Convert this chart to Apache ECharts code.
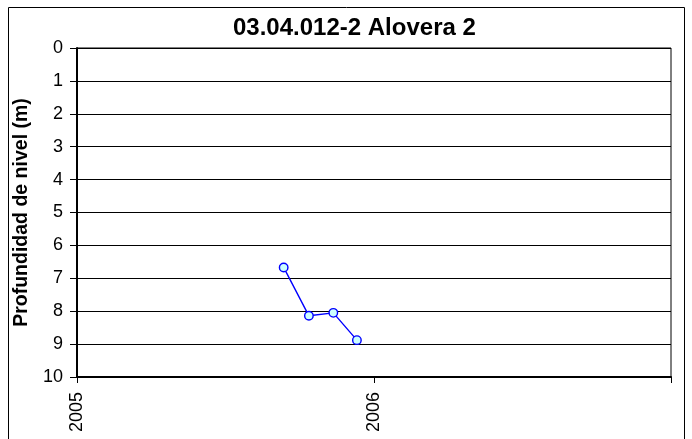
<!DOCTYPE html>
<html><head><meta charset="utf-8">
<script src="https://cdn.jsdelivr.net/npm/echarts@6/dist/echarts.min.js"></script>
<style>html,body{margin:0;padding:0;background:#fff}#c{width:692px;height:439px}</style>
</head><body><div id="c"></div>
<script>
var dates = ['2005-09-12', '2005-10-13', '2005-11-12', '2005-12-11'];
var depths = [6.67, 8.14, 8.05, 8.88];
var xTicks = [2005, 2006, 2007];
var yTicks = [0,1,2,3,4,5,6,7,8,9,10];
var title = '03.04.012-2 Alovera 2';
var yName = 'Profundidad de nivel (m)';

function decYear(s){
  var p = s.split('-').map(Number);
  var t = Date.UTC(p[0], p[1]-1, p[2]);
  var a = Date.UTC(p[0],0,1), b = Date.UTC(p[0]+1,0,1);
  return p[0] + (t-a)/(b-a);
}
var data = dates.map(function(d,i){ return [decYear(d), depths[i]]; });
var FONT = 'Arial, "Liberation Sans", sans-serif';

var chart = echarts.init(document.getElementById('c'));
chart.setOption({
  animation:false,
  title:{text:title, left:233, top:16, padding:0, textStyle:{fontFamily:FONT, fontWeight:'bold', fontSize:24, color:'#000'}},
  graphic:[{type:'rect', shape:{x:8.5,y:7.5,width:676,height:440}, style:{fill:'none', stroke:'#000', lineWidth:1}, silent:true}],
  grid:{left:77, right:21, top:48, bottom:62, show:true, borderColor:'#000', borderWidth:1, backgroundColor:'transparent'},
  xAxis:{type:'value', min:xTicks[0], max:xTicks[xTicks.length-1], interval:1,
    axisLine:{onZero:false, lineStyle:{color:'#000', width:2}},
    axisTick:{show:true, length:6, lineStyle:{color:'#000'}},
    splitLine:{show:false},
    axisLabel:{rotate:90, margin:15, fontFamily:FONT, fontSize:18, color:'#000',
      formatter:function(v){ return (v===xTicks[xTicks.length-1]) ? '' : String(v); }}
  },
  yAxis:{type:'value', inverse:true, min:yTicks[0], max:yTicks[yTicks.length-1], interval:1,
    name:yName, nameLocation:'middle', nameGap:44, nameRotate:90,
    nameTextStyle:{fontFamily:FONT, fontWeight:'bold', fontSize:19.5, color:'#000'},
    axisLine:{show:true, lineStyle:{color:'#000', width:2}},
    axisTick:{show:true, length:7, lineStyle:{color:'#000'}},
    splitLine:{show:true, lineStyle:{color:'#000', width:1}},
    axisLabel:{margin:14, fontFamily:FONT, fontSize:18, color:'#000'}
  },
  series:[{type:'line', data:data, symbol:'circle', symbolSize:8.5,
    lineStyle:{color:'#0000ff', width:1.4},
    itemStyle:{color:'#ccffff', borderColor:'#0000ff', borderWidth:1.4}
  }]
});
</script></body></html>
